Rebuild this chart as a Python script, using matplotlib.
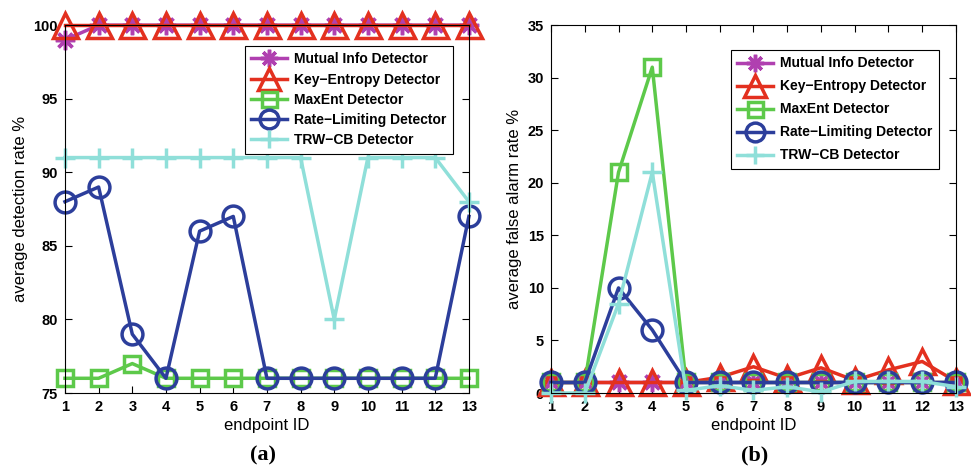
import matplotlib.pyplot as plt
import numpy as np

plt.rcParams['font.family'] = ['Liberation Sans', 'DejaVu Sans']

endpoints = np.arange(1, 14)
labels = ['Mutual Info Detector', 'Key\u2212Entropy Detector', 'MaxEnt Detector',
          'Rate\u2212Limiting Detector', 'TRW\u2212CB Detector']

# (a) average detection rate %
det_mutual = [99, 100, 100, 100, 100, 100, 100, 100, 100, 100, 100, 100, 100]
det_keyent = [100, 100, 100, 100, 100, 100, 100, 100, 100, 100, 100, 100, 100]
det_maxent = [76, 76, 77, 76, 76, 76, 76, 76, 76, 76, 76, 76, 76]
det_rate = [88, 89, 79, 76, 86, 87, 76, 76, 76, 76, 76, 76, 87]
det_trw = [91, 91, 91, 91, 91, 91, 91, 91, 80, 91, 91, 91, 88]

# (b) average false alarm rate %
fa_mutual = [1, 1, 1, 1, 1, 1, 1, 1, 1, 1, 1, 1, 1]
fa_keyent = [1, 1, 1, 1, 1, 1.5, 2.5, 1.4, 2.4, 1.2, 2.2, 3.0, 1.1]
fa_maxent = [1, 1, 21, 31, 1, 1, 1, 1, 1, 1, 1, 1, 1]
fa_rate = [1, 1, 10, 6, 1, 1, 1, 1, 1, 1, 1, 1, 1]
fa_trw = [0, 0, 8.5, 21, 0.25, 0.7, 0.25, 0.6, 0.1, 1.1, 1.1, 1.1, 0.6]

colors = ['#B040B0', '#E3301F', '#5DC94A', '#2C3E9B', '#8FDFD9']
styles = [dict(marker=(8, 2, 0), ms=14, mew=2.5),
          dict(marker='^', ms=18, mfc='none', mew=2.5),
          dict(marker='s', ms=12, mfc='none', mew=2.5),
          dict(marker='o', ms=15, mfc='none', mew=2.5),
          dict(marker='+', ms=15, mew=2.5)]

fig = plt.figure(figsize=(9.71, 4.71), dpi=100)
ax1 = fig.add_axes([0.0669, 0.1656, 0.416, 0.781])
ax2 = fig.add_axes([0.5675, 0.1656, 0.417, 0.781])


def draw(ax, series, ylim, yticks, ylabel, anchor, spacing):
    for vals, c, st, lab in zip(series, colors, styles, labels):
        ax.plot(endpoints, vals, color=c, lw=2.5, label=lab, clip_on=False, **st)
    ax.set_xlim(1, 13)
    ax.set_ylim(*ylim)
    ax.set_xticks(endpoints)
    ax.set_yticks(yticks)
    ax.tick_params(direction='in', top=True, right=True, length=5, labelsize=10.5, pad=5)
    for t in ax.get_xticklabels() + ax.get_yticklabels():
        t.set_fontweight('bold')
    ax.set_xlabel('endpoint ID', fontsize=12, labelpad=3)
    ax.set_ylabel(ylabel, fontsize=12, labelpad=4)
    leg = ax.legend(loc='upper right', bbox_to_anchor=anchor, fancybox=False,
                    edgecolor='black', framealpha=1, prop={'weight': 'bold', 'size': 10},
                    handlelength=2.6, handletextpad=0.5, labelspacing=spacing,
                    borderpad=0.45, markerscale=0.9)
    leg.get_frame().set_linewidth(0.8)


draw(ax1, [det_mutual, det_keyent, det_maxent, det_rate, det_trw],
     (75, 100), [75, 80, 85, 90, 95, 100], 'average detection rate %', (0.978, 0.962), 0.45)
draw(ax2, [fa_mutual, fa_keyent, fa_maxent, fa_rate, fa_trw],
     (0, 35), [0, 5, 10, 15, 20, 25, 30, 35], 'average false alarm rate %', (0.975, 0.951), 0.65)

fig.text(0.271, 0.022, '(a)', family='Liberation Serif', weight='bold', fontsize=16, ha='center')
fig.text(0.777, 0.022, '(b)', family='Liberation Serif', weight='bold', fontsize=16, ha='center')

fig.savefig('out.png', dpi=100)
